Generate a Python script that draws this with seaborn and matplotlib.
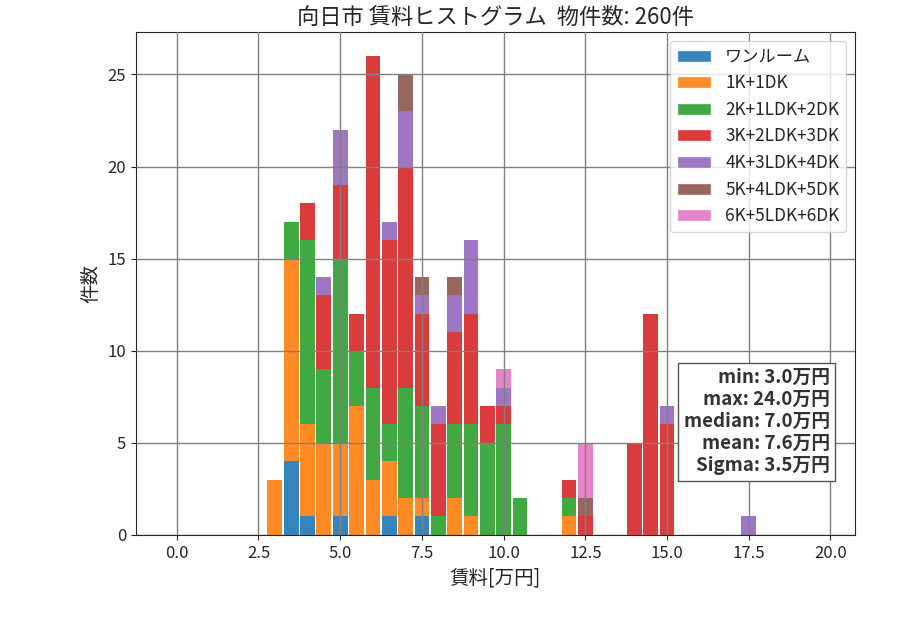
import numpy as np
import pandas as pd
import seaborn as sns
import matplotlib
matplotlib.use("Agg")
import matplotlib.pyplot as plt
from matplotlib.patches import Patch

# rent bin centers [万円]
rent = [3.0, 3.5, 4.0, 4.5, 5.0, 5.5, 6.0, 6.5, 7.0, 7.5, 8.0, 8.5, 9.0,
        9.5, 10.0, 10.5, 12.0, 12.5, 14.0, 14.5, 15.0, 17.5]

layouts = ["ワンルーム", "1K+1DK", "2K+1LDK+2DK", "3K+2LDK+3DK",
           "4K+3LDK+4DK", "5K+4LDK+5DK", "6K+5LDK+6DK"]

# counts per rent bin for each layout
one_room = [0, 4, 1, 0, 1, 0, 0, 1, 0, 1, 0, 0, 0, 0, 0, 0, 0, 0, 0, 0, 0, 0]
k1 = [3, 11, 5, 5, 4, 7, 3, 3, 2, 1, 0, 2, 1, 0, 0, 0, 1, 0, 0, 0, 0, 0]
k2 = [0, 2, 10, 4, 10, 3, 5, 2, 6, 5, 1, 4, 5, 5, 6, 2, 1, 0, 0, 0, 0, 0]
k3 = [0, 0, 2, 4, 4, 2, 18, 10, 12, 5, 5, 5, 6, 2, 1, 0, 1, 1, 5, 12, 6, 0]
k4 = [0, 0, 0, 1, 3, 0, 0, 1, 3, 1, 1, 2, 4, 0, 1, 0, 0, 0, 0, 0, 1, 1]
k5 = [0, 0, 0, 0, 0, 0, 0, 0, 2, 1, 0, 1, 0, 0, 0, 0, 0, 1, 0, 0, 0, 0]
k6 = [0, 0, 0, 0, 0, 0, 0, 0, 0, 0, 0, 0, 0, 0, 1, 0, 0, 3, 0, 0, 0, 0]

stats_text = "min: 3.0万円\nmax: 24.0万円\nmedian: 7.0万円\nmean: 7.6万円\nSigma: 3.5万円"

rows = []
for name, counts in zip(layouts, [one_room, k1, k2, k3, k4, k5, k6]):
    for r, c in zip(rent, counts):
        if c:
            rows.append({"rent": r, "layout": name, "count": c})
df = pd.DataFrame(rows)

sns.set_style("ticks")
plt.rcParams["font.family"] = ["Noto Sans CJK JP", "DejaVu Sans"]

fig, ax = plt.subplots(figsize=(9, 6.3), dpi=100)
fig.subplots_adjust(left=0.151, right=0.95, top=0.949, bottom=0.151)

palette = dict(zip(layouts, sns.color_palette("tab10", len(layouts))))
# seaborn puts the first hue level on top, so reverse to stack ワンルーム at the bottom
sns.histplot(data=df, x="rent", weights="count", hue="layout",
             hue_order=layouts[::-1], multiple="stack",
             binwidth=0.5, binrange=(-0.25, 19.75), shrink=0.9,
             palette=palette, alpha=0.9, linewidth=0, legend=False, ax=ax)

ax.set_axisbelow(False)
ax.grid(True, color="gray", linewidth=1)
ax.set_xlim(-1.25, 20.75)
ax.tick_params(labelsize=12)
ax.set_title("向日市 賃料ヒストグラム  物件数: 260件", fontsize=16)
ax.set_xlabel("賃料[万円]", fontsize=14)
ax.set_ylabel("件数", fontsize=14)

handles = [Patch(facecolor=palette[name], alpha=0.9, label=name) for name in layouts]
ax.legend(handles=handles, loc="upper right", fontsize=12.4)

ax.text(0.965, 0.225, stats_text, transform=ax.transAxes, ha="right", va="center",
        fontsize=13.5, fontweight="bold", color="#333333",
        bbox=dict(facecolor="white", edgecolor="#555555", pad=4))

fig.savefig("out.png")
